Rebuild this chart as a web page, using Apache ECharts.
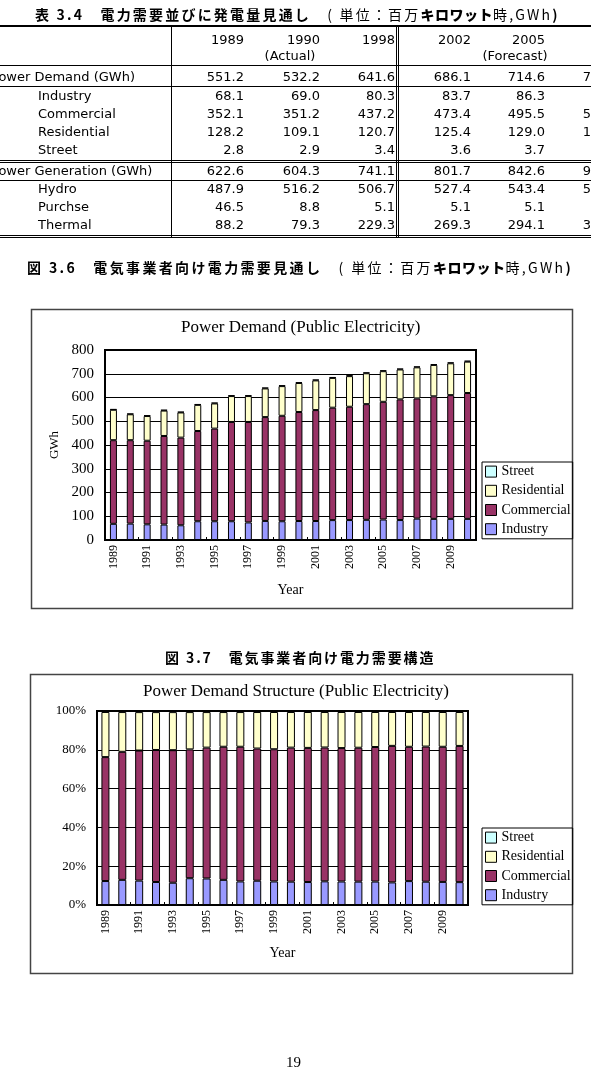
<!DOCTYPE html>
<html>
<head>
<meta charset="utf-8">
<script src="https://cdn.jsdelivr.net/npm/echarts@6/dist/echarts.min.js"></script>
<style>
body{margin:0;background:#fff;width:591px;height:1089px;overflow:hidden;position:relative;}
#chart{position:absolute;left:0;top:0;width:591px;height:1089px;}
.t{position:absolute;white-space:nowrap;font-family:"DejaVu Sans";font-size:13px;color:#000;line-height:16px;}
.h{position:absolute;white-space:nowrap;font-family:"Noto Sans CJK JP";font-size:14px;font-weight:bold;letter-spacing:2.3px;line-height:18px;color:#000;}
.h .n{font-weight:normal;}
.h .k{font-weight:900;letter-spacing:0.5px;}
.ln{position:absolute;background:#000;}
</style>
</head>
<body>
<div id="chart"></div>
<div id="tbl"></div>
<div class="h" style="left:35px;top:5px;letter-spacing:2.2px;">表 3.4　電力需要並びに発電量見通し　<span class="n">( 単位：百万</span><span class="k">キロワット</span><span class="n">時,GWh</span>)</div>
<div class="h" style="left:27px;top:258px;letter-spacing:2.35px;">図 3.6　電気事業者向け電力需要見通し　<span class="n">( 単位：百万</span><span class="k">キロワット</span><span class="n">時,GWh</span>)</div>
<div class="h" style="left:165px;top:648px;letter-spacing:1.9px;">図 3.7　電気事業者向け電力需要構造</div>
<div style="position:absolute;left:286px;top:1054px;font-family:'Liberation Serif';font-size:15px;">19</div>
<script>
// table values (表 3.4)
var tblYears = ['1989', '1990', '1998', '2002', '2005', '2010'];
var tblLabels = ['Power Demand (GWh)', 'Industry', 'Commercial', 'Residential', 'Street',
                 'Power Generation (GWh)', 'Hydro', 'Purchse', 'Thermal'];
var rowDemand = [551.2, 532.2, 641.6, 686.1, 714.6, 755.0];
var rowIndustry = [68.1, 69.0, 80.3, 83.7, 86.3, 89.0];
var rowCommercial = [352.1, 351.2, 437.2, 473.4, 495.5, 530.0];
var rowResidential = [128.2, 109.1, 120.7, 125.4, 129.0, 132.0];
var rowStreet = [2.8, 2.9, 3.4, 3.6, 3.7, 3.9];
var rowGeneration = [622.6, 604.3, 741.1, 801.7, 842.6, 930.0];
var rowHydro = [487.9, 516.2, 506.7, 527.4, 543.4, 560.0];
var rowPurchase = [46.5, 8.8, 5.1, 5.1, 5.1, 5.1];
var rowThermal = [88.2, 79.3, 229.3, 269.3, 294.1, 365.0];

// chart values (図 3.6 / 3.7)
var years = ['1989','1990','1991','1992','1993','1994','1995','1996','1997','1998','1999',
             '2000','2001','2002','2003','2004','2005','2006','2007','2008','2009','2010'];
var industry = [68.1, 69.0, 66, 65, 62, 79, 79, 79, 74, 80.3, 79, 80, 80, 83.7, 84, 85, 86.3, 84, 90, 89, 89, 89];
var commercial = [352.1, 351.2, 352, 373, 369, 380, 390, 418, 423, 437.2, 444, 459, 467, 473.4, 477, 487, 495.5, 508, 506, 516, 521, 530];
var residential = [128.2, 109.1, 104, 107, 106, 110, 106, 109, 109, 120.7, 125, 122, 125, 125.4, 129, 130, 129.0, 126, 131, 132, 134, 132];
var street = [2.8, 2.9, 3.0, 3.1, 3.1, 3.2, 3.2, 3.3, 3.3, 3.4, 3.4, 3.5, 3.5, 3.6, 3.6, 3.6, 3.7, 3.7, 3.8, 3.8, 3.9, 3.9];

// ---- table (html) ----
var tbl = document.getElementById('tbl');
function add(html, css, cls){
    var d = document.createElement('div');
    d.className = cls || 't';
    d.style.cssText = css;
    d.innerHTML = html;
    tbl.appendChild(d);
}
var colRight = [244, 320, 395, 471, 545, 620];
var rowY = [69, 88, 106, 124, 142, 163, 181, 199, 217];
var rows = [rowDemand, rowIndustry, rowCommercial, rowResidential, rowStreet,
            rowGeneration, rowHydro, rowPurchase, rowThermal];
for (var c = 0; c < 5; c++) {
    add(tblYears[c], 'left:' + (colRight[c] - 60) + 'px;width:60px;text-align:right;top:32px;');
}
add('(Actual)', 'left:250px;width:80px;text-align:center;top:48px;');
add('(Forecast)', 'left:470px;width:90px;text-align:center;top:48px;');
for (var r = 0; r < rows.length; r++) {
    var sub = !(r == 0 || r == 5);
    add(tblLabels[r], 'left:' + (sub ? 38 : -9) + 'px;top:' + rowY[r] + 'px;');
    for (var c = 0; c < rows[r].length; c++) {
        add(rows[r][c].toFixed(1), 'left:' + (colRight[c] - 60) + 'px;width:60px;text-align:right;top:' + rowY[r] + 'px;');
    }
}
// rules
add('', 'left:0;top:25px;width:591px;height:2px;', 'ln');
add('', 'left:0;top:65px;width:591px;height:1px;', 'ln');
add('', 'left:0;top:86px;width:591px;height:1px;', 'ln');
add('', 'left:0;top:160px;width:591px;height:1px;', 'ln');
add('', 'left:0;top:162px;width:591px;height:1px;', 'ln');
add('', 'left:0;top:180px;width:591px;height:1px;', 'ln');
add('', 'left:0;top:235px;width:591px;height:1px;', 'ln');
add('', 'left:0;top:237px;width:591px;height:1px;', 'ln');
add('', 'left:171px;top:25px;width:1px;height:213px;', 'ln');
add('', 'left:396px;top:25px;width:1px;height:213px;', 'ln');
add('', 'left:398px;top:25px;width:1px;height:213px;', 'ln');

// ---- charts ----
var colors = {Industry: '#9999ff', Commercial: '#993366', Residential: '#ffffcc', Street: '#ccffff'};
var serif = 'Liberation Serif';

var totals = years.map(function (y, i) {
    return industry[i] + commercial[i] + residential[i] + street[i];
});
function share(arr) {
    return arr.map(function (v, i) { return v / totals[i] * 100; });
}

function stackSeries(gi, bw, ind, com, res, st, st2) {
    var list = [['Industry', ind], ['Commercial', com], ['Residential', res], ['Street', st]];
    return list.map(function (s) {
        return {
            name: s[0], type: 'bar', stack: st2, xAxisIndex: gi, yAxisIndex: gi,
            barWidth: bw, data: s[1],
            itemStyle: {color: colors[s[0]], borderColor: '#000', borderWidth: 1}
        };
    });
}

var xAxisBase = function (gi, gap) {
    return {
        type: 'category', gridIndex: gi, data: years,
        axisLine: {lineStyle: {color: '#000', width: 2}},
        axisTick: {show: true, inside: true, length: 3, lineStyle: {color: '#000'}},
        axisLabel: {rotate: 90, interval: 1, fontFamily: serif, fontSize: 12, color: '#000', margin: 5},
        name: 'Year', nameLocation: 'middle', nameGap: gap,
        nameTextStyle: {fontFamily: serif, fontSize: 14, color: '#000'}
    };
};

var legendBase = function (top) {
    return {
        orient: 'vertical', left: 482, top: top,
        data: ['Street', 'Residential', 'Commercial', 'Industry'],
        itemWidth: 11, itemHeight: 11, itemGap: 0,
        padding: [0, 2, 0, 3],
        borderColor: '#000', borderWidth: 1,
        icon: 'rect',
        itemStyle: {borderColor: '#000', borderWidth: 1},
        textStyle: {fontFamily: serif, fontSize: 14, color: '#000', lineHeight: 19.2}
    };
};

var option = {
    animation: false,
    title: [
        {text: 'Power Demand (Public Electricity)', left: 181, top: 319, padding: 0,
         textStyle: {fontFamily: serif, fontSize: 17, fontWeight: 'normal', color: '#000'}},
        {text: 'Power Demand Structure (Public Electricity)', left: 143, top: 683, padding: 0,
         textStyle: {fontFamily: serif, fontSize: 17, fontWeight: 'normal', color: '#000'}}
    ],
    legend: [legendBase(462), legendBase(828)],
    grid: [
        {left: 105, top: 350, width: 371, height: 190, show: true, borderColor: '#000', borderWidth: 2},
        {left: 97, top: 711, width: 371, height: 194, show: true, borderColor: '#000', borderWidth: 2}
    ],
    xAxis: [xAxisBase(0, 43), xAxisBase(1, 41)],
    yAxis: [
        {type: 'value', gridIndex: 0, min: 0, max: 800, interval: 100,
         axisLine: {show: true, lineStyle: {color: '#000', width: 2}},
         axisTick: {show: false},
         splitLine: {lineStyle: {color: '#000', width: 1}},
         axisLabel: {fontFamily: serif, fontSize: 15, color: '#000', margin: 11},
         name: 'GWh', nameLocation: 'middle', nameGap: 42, nameRotate: 90,
         nameTextStyle: {fontFamily: serif, fontSize: 13, color: '#000'}},
        {type: 'value', gridIndex: 1, min: 0, max: 100, interval: 20,
         axisLine: {show: true, lineStyle: {color: '#000', width: 2}},
         axisTick: {show: false},
         splitLine: {lineStyle: {color: '#000', width: 1}},
         axisLabel: {fontFamily: serif, fontSize: 13, color: '#000', margin: 11, formatter: '{value}%'}}
    ],
    graphic: [
        {type: 'rect', shape: {x: 31.5, y: 309.5, width: 541, height: 299}, z: -1,
         style: {fill: 'none', stroke: '#444', lineWidth: 1.5}},
        {type: 'rect', shape: {x: 30.5, y: 674.5, width: 542, height: 299}, z: -1,
         style: {fill: 'none', stroke: '#444', lineWidth: 1.5}}
    ],
    series: stackSeries(0, 7, industry, commercial, residential, street, 'abs')
        .concat(stackSeries(1, 8, share(industry), share(commercial), share(residential), share(street), 'pct'))
};

var myChart = echarts.init(document.getElementById('chart'));
myChart.setOption(option);
</script>
</body>
</html>
